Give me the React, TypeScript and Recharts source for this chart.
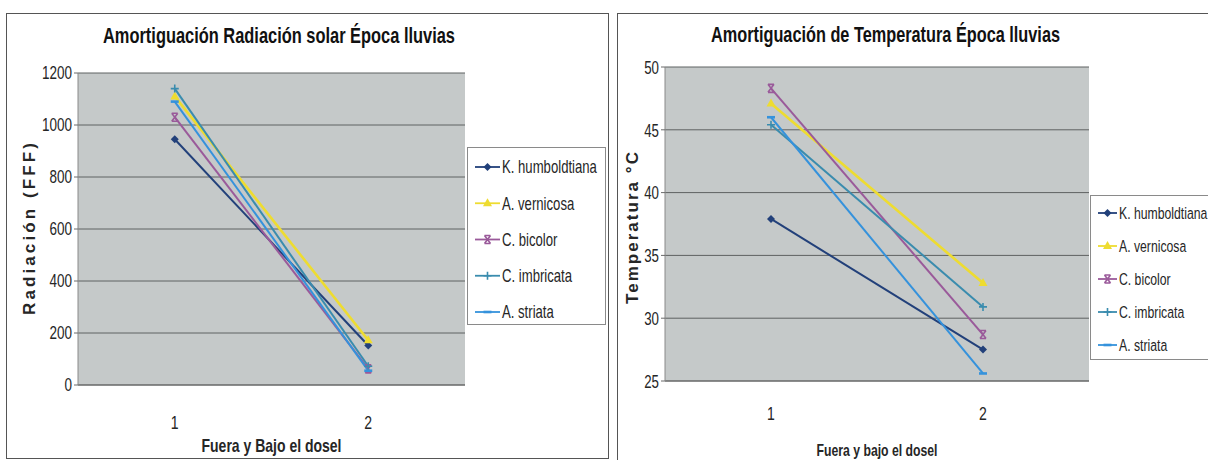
import React from 'react';
import { LineChart, Line, XAxis, YAxis, CartesianGrid, Label } from 'recharts';

const categories = [1, 2];
const seriesNames = ['K. humboldtiana', 'A. vernicosa', 'C. bicolor', 'C. imbricata', 'A. striata'];
const seriesColors = ['#22407a', '#eedc30', '#9a5a9a', '#3a8cae', '#3592dc'];
const seriesMarkers = ['diamond', 'triangle', 'star', 'plus', 'dash'];
const seriesWidths = [2, 2.6, 2, 2, 2];

// Radiación (FFF)
const radKHumboldtiana = [945, 152];
const radAVernicosa = [1110, 172];
const radCBicolor = [1030, 62];
const radCImbricata = [1140, 72];
const radAStriata = [1090, 55];
const radTicks = [0, 200, 400, 600, 800, 1000, 1200];

// Temperatura °C
const tempKHumboldtiana = [37.9, 27.5];
const tempAVernicosa = [47.1, 32.8];
const tempCBicolor = [48.3, 28.7];
const tempCImbricata = [45.4, 30.9];
const tempAStriata = [46.0, 25.6];
const tempTicks = [25, 30, 35, 40, 45, 50];

const radSeries = [radKHumboldtiana, radAVernicosa, radCBicolor, radCImbricata, radAStriata];
const tempSeries = [tempKHumboldtiana, tempAVernicosa, tempCBicolor, tempCImbricata, tempAStriata];

const buildData = (series: number[][]) =>
  categories.map((c, i) => {
    const row: Record<string, number> = { x: c };
    series.forEach((s, k) => {
      row['s' + k] = s[i];
    });
    return row;
  });

const radData = buildData(radSeries);
const tempData = buildData(tempSeries);

const FONT = "'Liberation Sans', Arial, sans-serif";
const PLOT_BG = '#c5c9c9';
const GRID = '#5e6262';
const TEXT = '#262626';

function Marker({ shape, cx, cy, color }: { shape: string; cx: number; cy: number; color: string }) {
  if (cx == null || cy == null) return null;
  switch (shape) {
    case 'diamond':
      return <polygon points={`${cx},${cy - 4} ${cx + 4},${cy} ${cx},${cy + 4} ${cx - 4},${cy}`} fill={color} />;
    case 'triangle':
      return <polygon points={`${cx},${cy - 5} ${cx + 4.5},${cy + 3} ${cx - 4.5},${cy + 3}`} fill={color} />;
    case 'star':
      return (
        <path
          d={`M${cx - 3},${cy - 4}H${cx + 3}M${cx - 3},${cy + 4}H${cx + 3}M${cx - 3},${cy - 4}L${cx + 3},${cy + 4}M${cx + 3},${cy - 4}L${cx - 3},${cy + 4}`}
          stroke={color}
          strokeWidth={1.6}
          fill="none"
        />
      );
    case 'plus':
      return <path d={`M${cx - 4},${cy}H${cx + 4}M${cx},${cy - 4}V${cy + 4}`} stroke={color} strokeWidth={1.6} fill="none" />;
    case 'dash':
    default:
      return <path d={`M${cx - 4},${cy}H${cx + 4}`} stroke={color} strokeWidth={2.6} fill="none" />;
  }
}

const makeDot = (k: number) => (props: any) => (
  <g key={`dot-${k}-${props.index}`}>
    <Marker shape={seriesMarkers[k]} cx={props.cx} cy={props.cy} color={seriesColors[k]} />
  </g>
);

function LegendBox({ left, top, width, height, firstRow, rowGap, iconX0, iconX1, textX, fontSize, sx }: any) {
  return (
    <svg style={{ position: 'absolute', left, top, overflow: 'visible' }} width={width} height={height}>
      <rect x={0.5} y={0.5} width={width - 1} height={height - 1} fill="#fff" stroke="#8a8a8a" strokeWidth={1} />
      {seriesNames.map((name, k) => {
        const y = firstRow + k * rowGap;
        return (
          <g key={name}>
            <line x1={iconX0} y1={y} x2={iconX1} y2={y} stroke={seriesColors[k]} strokeWidth={1.8} />
            <Marker shape={seriesMarkers[k]} cx={(iconX0 + iconX1) / 2} cy={y} color={seriesColors[k]} />
            <text
              transform={`translate(${textX},${y}) scale(${sx},1)`}
              dy="0.36em"
              fontFamily={FONT}
              fontSize={fontSize}
              fill={TEXT}
            >
              {name}
            </text>
          </g>
        );
      })}
    </svg>
  );
}

const makeYTick = (fs: number, sx: number) => (props: any) => {
  const { x, y, payload } = props;
  return (
    <text
      transform={`translate(${x},${y}) scale(${sx},1)`}
      textAnchor="end"
      dy="0.36em"
      fontFamily={FONT}
      fontSize={fs}
      fill={TEXT}
    >
      {payload.value}
    </text>
  );
};

const makeXTick = (fs: number, sx: number, off: number) => (props: any) => {
  const { x, y, payload } = props;
  return (
    <text
      transform={`translate(${x},${y + off}) scale(${sx},1)`}
      textAnchor="middle"
      fontFamily={FONT}
      fontSize={fs}
      fill={TEXT}
    >
      {payload.value}
    </text>
  );
};

function Panel({
  left,
  width,
  data,
  yDomain,
  yTicks,
  plot,
  yLabel,
  yLabelX,
  yLabelLen,
  yLabelDy,
  yTickFont,
  yTickScale,
  xTickOff,
  xLabel,
  xLabelDy,
  xLabelLen,
  xLabelFont,
}: any) {
  return (
    <div style={{ position: 'absolute', left, top: 0, width, height: 460 }}>
      <LineChart
        width={width}
        height={460}
        data={data}
        margin={{ top: plot.top, right: width - plot.right, left: 0, bottom: 460 - plot.bottom - 60 }}
        style={{ overflow: 'visible' }}
      >
        <CartesianGrid vertical={false} stroke={GRID} strokeWidth={1} fill={PLOT_BG} fillOpacity={1} />
        <XAxis
          dataKey="x"
          type="number"
          domain={[0.5, 2.5]}
          ticks={categories}
          height={60}
          axisLine={{ stroke: '#6a6a6a' }}
          tickLine={false}
          tickSize={0}
          tickMargin={0}
          tick={makeXTick(18, 0.78, xTickOff)}
        >
          <Label
            content={(p: any) => {
              const vb = p.viewBox || {};
              return (
                <text
                  x={vb.x + vb.width / 2}
                  y={vb.y + xLabelDy}
                  textAnchor="middle"
                  fontFamily={FONT}
                  fontWeight="bold"
                  fontSize={xLabelFont}
                  textLength={xLabelLen}
                  lengthAdjust="spacingAndGlyphs"
                  fill={TEXT}
                >
                  {xLabel}
                </text>
              );
            }}
          />
        </XAxis>
        <YAxis
          type="number"
          domain={yDomain}
          ticks={yTicks}
          width={plot.left}
          axisLine={{ stroke: '#8a8a8a' }}
          tickLine={{ stroke: '#6a6a6a' }}
          tickSize={4}
          tickMargin={2}
          interval={0}
          tick={makeYTick(yTickFont, yTickScale)}
        >
          <Label
            content={(p: any) => {
              const vb = p.viewBox || {};
              const cx = vb.x + yLabelX;
              const cy = vb.y + vb.height / 2 + yLabelDy;
              return (
                <text
                  x={cx}
                  y={cy}
                  transform={`rotate(-90 ${cx} ${cy})`}
                  textAnchor="middle"
                  dominantBaseline="central"
                  fontFamily={FONT}
                  fontWeight="bold"
                  fontSize={17}
                  textLength={yLabelLen}
                  lengthAdjust="spacing"
                  fill={TEXT}
                >
                  {yLabel}
                </text>
              );
            }}
          />
        </YAxis>
        {seriesNames.map((name, k) => (
          <Line
            key={name}
            name={name}
            dataKey={'s' + k}
            stroke={seriesColors[k]}
            strokeWidth={seriesWidths[k]}
            dot={makeDot(k)}
            activeDot={false}
            isAnimationActive={false}
          />
        ))}
      </LineChart>
    </div>
  );
}

export default function App() {
  return (
    <div
      style={{
        position: 'absolute',
        left: 0,
        top: 0,
        width: 1208,
        height: 460,
        overflow: 'hidden',
        background: '#fff',
      }}
    >
      <div style={{ position: 'absolute', left: 6, top: 13, width: 603, height: 446, border: '1.5px solid #555', boxSizing: 'border-box' }} />
      <div style={{ position: 'absolute', left: 617, top: 13, width: 620, height: 470, border: '1.5px solid #555', boxSizing: 'border-box' }} />

      <Panel
        left={0}
        width={610}
        data={radData}
        yDomain={[0, 1200]}
        yTicks={radTicks}
        plot={{ left: 78, right: 465, top: 73, bottom: 385 }}
        yLabel="Radiación (FFF)"
        yLabelX={29}
        yLabelLen={172}
        yLabelDy={0}
        yTickFont={18}
        yTickScale={0.75}
        xTickOff={44}
        xLabel="Fuera y Bajo el dosel"
        xLabelDy={67}
        xLabelLen={140}
        xLabelFont={19}
      />
      <Panel
        left={610}
        width={598}
        data={tempData}
        yDomain={[25, 50]}
        yTicks={tempTicks}
        plot={{ left: 55, right: 479, top: 67, bottom: 381 }}
        yLabel="Temperatura °C"
        yLabelX={22}
        yLabelLen={152}
        yLabelDy={4}
        yTickFont={19}
        yTickScale={0.7}
        xTickOff={39}
        xLabel="Fuera y bajo el dosel"
        xLabelDy={75}
        xLabelLen={121}
        xLabelFont={17}
      />

      <svg style={{ position: 'absolute', left: 0, top: 0, pointerEvents: 'none' }} width={1208} height={460}>
        <text x={279} y={43} textAnchor="middle" fontFamily={FONT} fontWeight="bold" fontSize={22} textLength={352} lengthAdjust="spacingAndGlyphs" fill="#111">
          Amortiguación Radiación solar Época lluvias
        </text>
        <text x={885.5} y={42} textAnchor="middle" fontFamily={FONT} fontWeight="bold" fontSize={22} textLength={349} lengthAdjust="spacingAndGlyphs" fill="#111">
          Amortiguación de Temperatura Época lluvias
        </text>
      </svg>

      <LegendBox left={467} top={147} width={139} height={178} firstRow={20} rowGap={36.25} iconX0={8} iconX1={33} textX={35} fontSize={18} sx={0.73} />
      <LegendBox left={1090} top={195} width={130} height={165} firstRow={18} rowGap={33} iconX0={8} iconX1={27} textX={29} fontSize={17} sx={0.72} />
    </div>
  );
}
